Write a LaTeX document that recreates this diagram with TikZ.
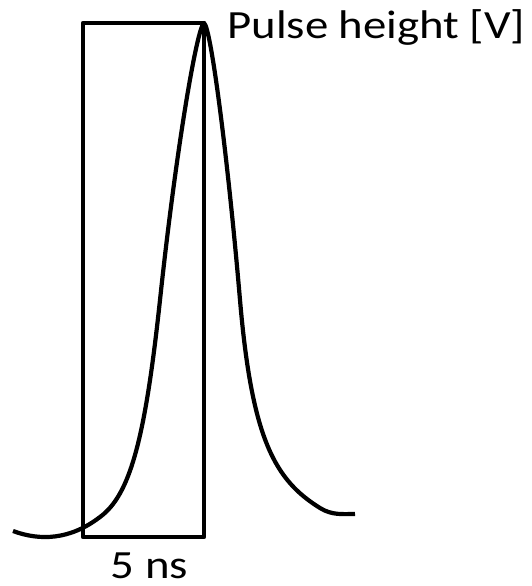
\documentclass[tikz,border=0pt]{standalone}
\usepackage{fontspec}
\setmainfont{Carlito}
\begin{document}
\begin{tikzpicture}[x=1pt,y=-1pt,
  thickline/.style={line width=4.2pt,line join=round},
  lbl/.style={font=\fontsize{40}{46}\selectfont,inner sep=0pt,xscale=1.17}]
\useasboundingbox (0,0) rectangle (532,586);
\draw[thickline] (83,23) rectangle (204,537);
\draw[thickline] (13,531) .. controls (40,541) and (70,540) .. (100,517)
  .. controls (130,495) and (145,440) .. (160,300)
  .. controls (176,150) and (197,27) .. (204,23)
  .. controls (211,27) and (228,160) .. (240,300)
  .. controls (252,440) and (275,480) .. (320,508)
  .. controls (332,515.5) and (343,514) .. (355,514);
\node[lbl,anchor=base west] (ph) at (227,39) {Pulse height [V]};
\node[lbl,anchor=base] (ns) at (149.5,578) {5 ns};
\end{tikzpicture}
\end{document}
